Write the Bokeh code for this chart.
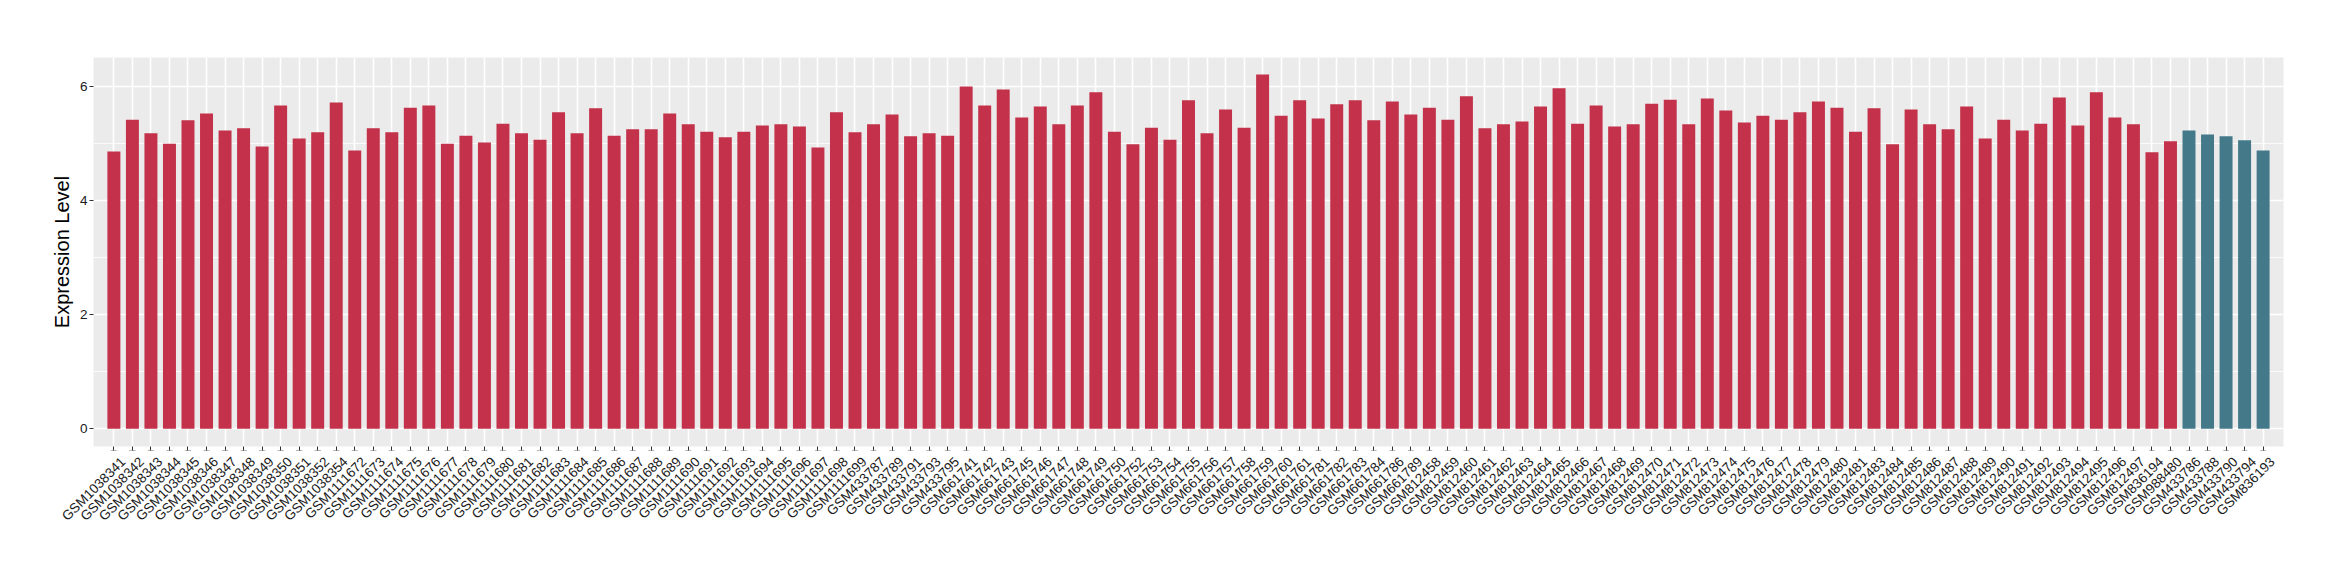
from bokeh.plotting import figure
from bokeh.models import (FactorRange, Range1d, SingleIntervalTicker, ColumnDataSource,
                          CategoricalAxis)
from bokeh.transform import factor_cmap
from bokeh.embed import file_html
from bokeh.resources import INLINE
import math

samples = [
    "GSM1038341", "GSM1038342", "GSM1038343", "GSM1038344", "GSM1038345", "GSM1038346",
    "GSM1038347", "GSM1038348", "GSM1038349", "GSM1038350", "GSM1038351", "GSM1038352",
    "GSM1038354",
    "GSM1111672", "GSM1111673", "GSM1111674", "GSM1111675", "GSM1111676", "GSM1111677",
    "GSM1111678", "GSM1111679", "GSM1111680", "GSM1111681", "GSM1111682", "GSM1111683",
    "GSM1111684", "GSM1111685", "GSM1111686", "GSM1111687", "GSM1111688", "GSM1111689",
    "GSM1111690", "GSM1111691", "GSM1111692", "GSM1111693", "GSM1111694", "GSM1111695",
    "GSM1111696", "GSM1111697", "GSM1111698", "GSM1111699",
    "GSM433787", "GSM433789", "GSM433791", "GSM433793", "GSM433795",
    "GSM661741", "GSM661742", "GSM661743", "GSM661745", "GSM661746", "GSM661747",
    "GSM661748", "GSM661749", "GSM661750", "GSM661752", "GSM661753", "GSM661754",
    "GSM661755", "GSM661756", "GSM661757", "GSM661758", "GSM661759", "GSM661760",
    "GSM661761", "GSM661781", "GSM661782", "GSM661783", "GSM661784", "GSM661786",
    "GSM661789",
    "GSM812458", "GSM812459", "GSM812460", "GSM812461", "GSM812462", "GSM812463",
    "GSM812464", "GSM812465", "GSM812466", "GSM812467", "GSM812468", "GSM812469",
    "GSM812470", "GSM812471", "GSM812472", "GSM812473", "GSM812474", "GSM812475",
    "GSM812476", "GSM812477", "GSM812478", "GSM812479", "GSM812480", "GSM812481",
    "GSM812483", "GSM812484", "GSM812485", "GSM812486", "GSM812487", "GSM812488",
    "GSM812489", "GSM812490", "GSM812491", "GSM812492", "GSM812493", "GSM812494",
    "GSM812495", "GSM812496", "GSM812497",
    "GSM836194", "GSM988480",
    "GSM433786", "GSM433788", "GSM433790", "GSM433794", "GSM836193",
]

expression = [
    4.86, 5.42, 5.18, 5.00, 5.41, 5.53, 5.23, 5.27, 4.95, 5.67, 5.09, 5.20, 5.72,
    4.88, 5.27, 5.20, 5.63, 5.67, 5.00, 5.14, 5.02, 5.35, 5.18, 5.07, 5.55, 5.18,
    5.62, 5.14, 5.25, 5.25, 5.53, 5.34, 5.21, 5.11, 5.21, 5.32, 5.34, 5.30, 4.93,
    5.55, 5.20,
    5.34, 5.51, 5.13, 5.18, 5.14,
    6.00, 5.67, 5.95, 5.46, 5.65, 5.34, 5.67, 5.90, 5.21, 4.99, 5.28, 5.07, 5.76,
    5.18, 5.60, 5.28, 6.21, 5.49, 5.76, 5.44, 5.69, 5.76, 5.41, 5.74, 5.51,
    5.63, 5.42, 5.83, 5.27, 5.34, 5.39, 5.65, 5.97, 5.35, 5.67, 5.30, 5.34, 5.70,
    5.77, 5.34, 5.79, 5.58, 5.37, 5.49, 5.42, 5.55, 5.74, 5.63, 5.21, 5.62, 4.99,
    5.60, 5.34, 5.25, 5.65, 5.09, 5.42, 5.23, 5.35, 5.81, 5.32, 5.90, 5.46, 5.34,
    4.85, 5.04,
    5.23, 5.16, 5.13, 5.06, 4.88,
]

group = ["Tumor"] * 112 + ["Normal"] * 5
group_names = ["Tumor", "Normal"]
group_colors = ["#C3314A", "#44798A"]

FONT = "Liberation Sans"
PAD = 0.6   # ggplot discrete expansion (category units)

src = ColumnDataSource(dict(sample=samples, value=expression, group=group))

p = figure(
    width=2340, height=580,
    x_range=FactorRange(factors=samples, range_padding=PAD, range_padding_units="absolute"),
    y_range=Range1d(-0.31, 6.51),
    output_backend="svg", toolbar_location=None,
    min_border_left=93, min_border_right=57, min_border_top=57, min_border_bottom=134,
)

p.vbar(x="sample", top="value", bottom=0, width=0.7, source=src,
       fill_color=factor_cmap("group", palette=group_colors, factors=group_names),
       line_color=None)

p.background_fill_color = "#EBEBEB"
p.border_fill_color = "white"
p.outline_line_color = None

p.yaxis.ticker = SingleIntervalTicker(interval=2, num_minor_ticks=2)
p.ygrid.grid_line_color = "white"
p.ygrid.grid_line_width = 1.6
p.ygrid.minor_grid_line_color = "white"
p.ygrid.minor_grid_line_width = 0.8
p.xgrid.grid_line_color = "white"
p.xgrid.grid_line_width = 1.6

for ax in (p.xaxis, p.yaxis):
    ax.axis_line_color = None
    ax.major_tick_line_color = "#333333"
    ax.major_tick_line_width = 1
    ax.major_tick_out = 4
    ax.major_tick_in = 0
    ax.minor_tick_line_color = None
    ax.major_label_text_font = FONT
    ax.major_label_text_color = "#1a1a1a"
    ax.major_label_text_font_size = "13.5px"
    ax.major_label_standoff = 2

# main categorical axis: tick marks only (labels drawn by the shifted axis below)
p.xaxis.major_label_overrides = {s: "" for s in samples}
p.xaxis.major_label_text_font_size = "1px"
p.xaxis.major_label_standoff = 0

# label axis: one leading spacer factor shifts every label half a category to the
# right, mimicking ggplot's angle=45 / hjust=1 placement
spacer = " "
p.extra_x_ranges = {"labels": FactorRange(factors=[spacer] + samples, range_padding=0.1,
                                          range_padding_units="absolute")}
lab_axis = CategoricalAxis(x_range_name="labels")
lab_axis.major_label_overrides = {spacer: ""}
lab_axis.axis_line_color = None
lab_axis.major_tick_line_color = None
lab_axis.minor_tick_line_color = None
lab_axis.major_tick_out = 0
lab_axis.major_tick_in = 0
lab_axis.major_label_standoff = 5
lab_axis.major_label_text_font = FONT
lab_axis.major_label_text_color = "#1a1a1a"
lab_axis.major_label_text_font_size = "13.5px"
lab_axis.major_label_orientation = math.pi / 4
p.add_layout(lab_axis, "below")

p.yaxis.axis_label = "Expression Level"
p.yaxis.axis_label_text_font = FONT
p.yaxis.axis_label_text_font_size = "20px"
p.yaxis.axis_label_text_font_style = "normal"
p.yaxis.axis_label_text_color = "black"
p.yaxis.axis_label_standoff = 4

open("out.html", "w").write(file_html(p, INLINE))
